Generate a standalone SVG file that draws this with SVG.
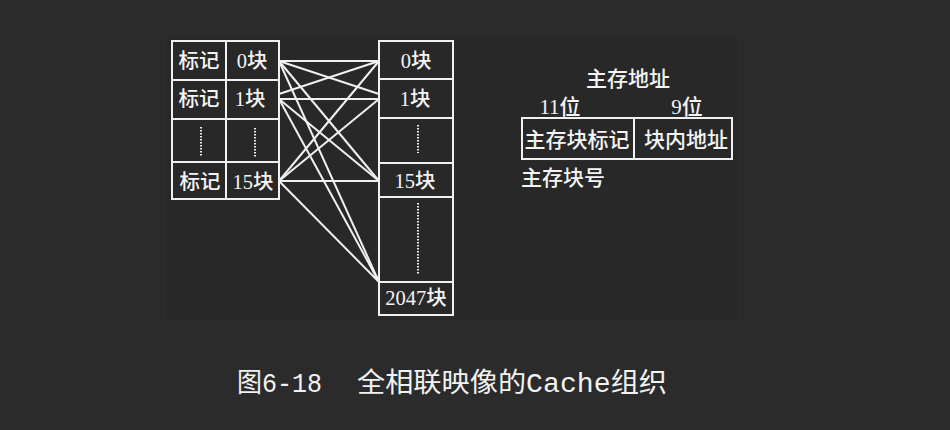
<svg xmlns="http://www.w3.org/2000/svg" width="950" height="430" viewBox="0 0 950 430">
<style>
.box{fill:none;stroke:#f0f0f0;stroke-width:2}
.ln{stroke:#f0f0f0;stroke-width:2;fill:none}
.dot{stroke:#f0f0f0;stroke-width:2;stroke-dasharray:1.5 1.5;fill:none}
.t{fill:#f4f4f4;font-family:"Liberation Serif","Noto Sans CJK SC",serif;font-size:20.5px;font-weight:500;text-anchor:middle}
.t2{fill:#f4f4f4;font-family:"Liberation Serif","Noto Sans CJK SC",serif;font-size:21px;font-weight:500}
.cap{fill:#f2f2f2;font-family:"Liberation Mono","Noto Sans CJK SC",monospace;font-size:27px}
</style>
<rect width="950" height="430" fill="#2b2b2b"/>
<rect x="167" y="37" width="570" height="283" fill="#282828"/>

<g id="cache-table">
<rect class="box" x="172" y="41" width="107" height="158"/>
<line class="box" x1="226" y1="41" x2="226" y2="199"/>
<line class="box" x1="172" y1="80" x2="279" y2="80"/>
<line class="box" x1="172" y1="119" x2="279" y2="119"/>
<line class="box" x1="172" y1="162" x2="279" y2="162"/>
<line class="dot" x1="201" y1="127" x2="201" y2="156"/>
<line class="dot" x1="255" y1="128" x2="255" y2="157"/>
<text class="t" x="199" y="68">标记</text>
<text class="t" x="252" y="68">0块</text>
<text class="t" x="199" y="106">标记</text>
<text class="t" x="250" y="106">1块</text>
<text class="t" x="200" y="189">标记</text>
<text class="t" x="253" y="189">15块</text>
</g>

<g id="main-memory">
<rect class="box" x="379" y="41" width="74" height="274"/>
<line class="box" x1="379" y1="79" x2="453" y2="79"/>
<line class="box" x1="379" y1="118" x2="453" y2="118"/>
<line class="box" x1="379" y1="163" x2="453" y2="163"/>
<line class="box" x1="379" y1="197" x2="453" y2="197"/>
<line class="box" x1="379" y1="282" x2="453" y2="282"/>
<line class="dot" x1="418" y1="125" x2="418" y2="153"/>
<line class="dot" x1="418" y1="203" x2="418" y2="275"/>
<text class="t" x="416" y="68">0块</text>
<text class="t" x="415" y="106">1块</text>
<text class="t" x="415" y="188">15块</text>
<text class="t" x="416" y="305">2047块</text>
</g>

<g id="connectors">
<line class="ln" x1="279" y1="61" x2="379" y2="61"/>
<line class="ln" x1="279" y1="61" x2="379" y2="94"/>
<line class="ln" x1="279" y1="61" x2="379" y2="181"/>
<line class="ln" x1="279" y1="61" x2="379" y2="282"/>
<line class="ln" x1="279" y1="94" x2="379" y2="61"/>
<line class="ln" x1="279" y1="99" x2="379" y2="99"/>
<line class="ln" x1="279" y1="99" x2="379" y2="181"/>
<line class="ln" x1="279" y1="99" x2="379" y2="282"/>
<line class="ln" x1="279" y1="181" x2="379" y2="61"/>
<line class="ln" x1="279" y1="181" x2="379" y2="99"/>
<line class="ln" x1="279" y1="181" x2="379" y2="181"/>
<line class="ln" x1="279" y1="181" x2="379" y2="282"/>
</g>

<g id="address-format">
<text class="t2" x="628" y="86" text-anchor="middle">主存地址</text>
<text class="t2" x="560" y="114" text-anchor="middle">11位</text>
<text class="t2" x="687" y="114" text-anchor="middle">9位</text>
<rect class="box" x="522" y="118" width="210" height="41"/>
<line class="box" x1="634" y1="118" x2="634" y2="159"/>
<text class="t2" x="577" y="147" text-anchor="middle">主存块标记</text>
<text class="t2" x="686" y="147" text-anchor="middle">块内地址</text>
<text class="t2" x="521" y="185">主存块号</text>
</g>

<g id="caption">
<text class="cap" x="237" y="392" textLength="85" lengthAdjust="spacingAndGlyphs">图6-18</text>
<text class="cap" x="357" y="392" textLength="310" lengthAdjust="spacingAndGlyphs">全相联映像的Cache组织</text>
</g>
</svg>
